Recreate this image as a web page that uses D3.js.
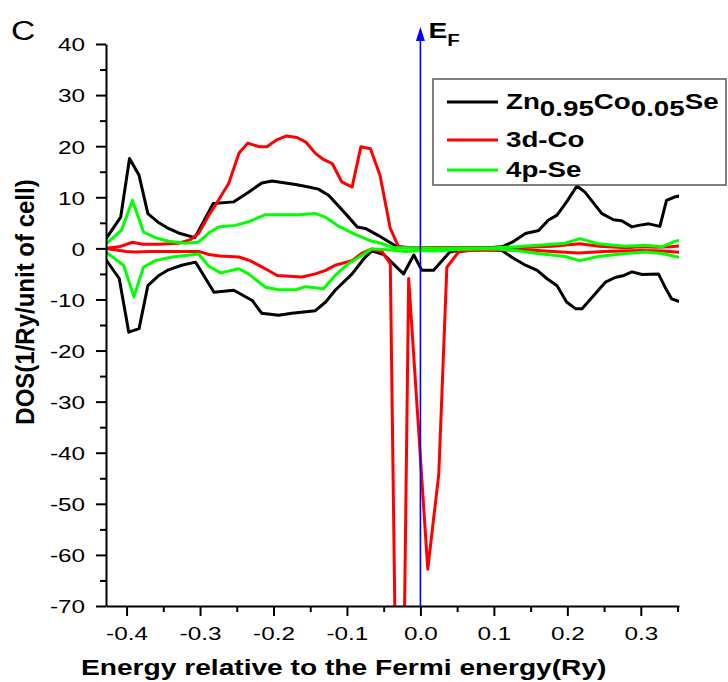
<!DOCTYPE html>
<html>
<head>
<meta charset="utf-8">
<script src="https://cdn.jsdelivr.net/npm/d3@7"></script>
<style>
  body { margin: 0; background: #fff; }
  svg text { font-family: Arial, "Liberation Sans", sans-serif; fill: #000; }
</style>
</head>
<body>
<svg id="chart" width="728" height="682"></svg>
<script>
// Energy (Ry) / DOS pairs, spin up (+) and spin down (-)
const totalUp = [[-0.435,0.4],[-0.408,6.1],[-0.396,17.6],[-0.383,14.3],[-0.371,6.8],[-0.356,5.0],[-0.343,3.9],[-0.327,2.9],[-0.307,2.1],[-0.282,8.8],[-0.254,9.1],[-0.234,11.0],[-0.216,12.8],[-0.202,13.2],[-0.170,12.5],[-0.152,12.0],[-0.139,11.6],[-0.125,10.4],[-0.102,6.8],[-0.086,4.2],[-0.075,3.9],[-0.057,2.5],[-0.032,0.3],[-0.010,0.1],[0.030,0.1],[0.100,0.2],[0.111,0.3],[0.125,1.2],[0.143,2.9],[0.161,3.5],[0.174,5.5],[0.186,6.5],[0.199,9.1],[0.213,12.2],[0.224,11.0],[0.247,6.8],[0.263,5.6],[0.274,5.4],[0.288,4.2],[0.297,4.5],[0.311,4.8],[0.326,4.3],[0.335,9.4],[0.347,10.1],[0.355,10.3]];
const totalDn = [[-0.435,-0.8],[-0.410,-5.9],[-0.397,-16.4],[-0.383,-15.7],[-0.371,-7.3],[-0.356,-5.3],[-0.343,-4.2],[-0.325,-3.3],[-0.306,-2.7],[-0.281,-8.6],[-0.254,-8.2],[-0.229,-10.2],[-0.216,-12.7],[-0.193,-13.1],[-0.175,-12.7],[-0.143,-12.2],[-0.129,-10.5],[-0.116,-8.2],[-0.093,-5.0],[-0.075,-1.7],[-0.066,-0.5],[-0.050,-1.2],[-0.023,-5.0],[-0.009,-1.3],[0.002,-4.3],[0.018,-4.3],[0.040,-0.7],[0.060,-0.2],[0.100,-0.3],[0.111,-0.4],[0.125,-1.8],[0.143,-3.3],[0.159,-4.3],[0.172,-5.9],[0.186,-7.3],[0.199,-10.5],[0.211,-11.8],[0.220,-11.8],[0.238,-8.9],[0.252,-6.6],[0.265,-5.7],[0.277,-5.3],[0.288,-4.6],[0.302,-5.1],[0.324,-5.0],[0.333,-7.6],[0.342,-9.9],[0.355,-10.5]];
const coUp = [[-0.435,-0.1],[-0.428,0.0],[-0.410,0.3],[-0.392,1.2],[-0.378,0.8],[-0.356,0.8],[-0.329,1.0],[-0.313,1.7],[-0.302,2.9],[-0.288,6.5],[-0.275,9.4],[-0.261,12.7],[-0.247,18.6],[-0.235,20.6],[-0.220,19.9],[-0.209,19.9],[-0.195,21.3],[-0.182,22.0],[-0.168,21.7],[-0.156,20.8],[-0.143,18.6],[-0.132,17.4],[-0.120,16.6],[-0.107,13.0],[-0.093,12.0],[-0.081,19.9],[-0.068,19.5],[-0.055,14.3],[-0.041,3.9],[-0.030,0.4],[-0.020,0.1],[0.050,0.1],[0.130,0.1],[0.160,0.3],[0.180,0.4],[0.195,0.6],[0.217,0.9],[0.243,0.4],[0.280,0.1],[0.300,0.3],[0.320,0.2],[0.340,0.3],[0.355,0.5]];
const coDn = [[-0.435,0.0],[-0.428,0.0],[-0.400,-0.6],[-0.389,-0.7],[-0.366,-0.6],[-0.302,-0.6],[-0.288,-1.2],[-0.273,-1.5],[-0.247,-1.7],[-0.232,-2.4],[-0.211,-4.0],[-0.195,-5.3],[-0.161,-5.6],[-0.143,-5.0],[-0.129,-4.3],[-0.116,-3.3],[-0.093,-2.4],[-0.080,-1.0],[-0.066,-0.1],[-0.052,-0.7],[-0.041,-3.0],[-0.028,-145],[-0.016,-5.9],[0.010,-62.8],[0.025,-44.2],[0.036,-3.7],[0.052,-0.7],[0.066,-0.4],[0.100,-0.3],[0.150,-0.3],[0.180,-0.6],[0.215,-0.9],[0.250,-0.6],[0.300,-0.4],[0.330,-0.5],[0.355,-0.8]];
const seUp = [[-0.435,0.0],[-0.407,3.5],[-0.392,9.4],[-0.377,3.2],[-0.361,2.1],[-0.343,1.4],[-0.320,1.0],[-0.302,1.2],[-0.288,3.0],[-0.275,4.2],[-0.252,4.5],[-0.234,5.2],[-0.211,6.6],[-0.166,6.6],[-0.143,6.8],[-0.129,6.1],[-0.111,4.3],[-0.088,2.7],[-0.070,1.6],[-0.052,0.9],[-0.036,0.1],[-0.010,0.1],[0.020,0.0],[0.100,0.1],[0.130,0.3],[0.160,0.6],[0.197,1.0],[0.217,1.9],[0.242,0.9],[0.279,0.4],[0.306,0.6],[0.329,0.3],[0.347,1.4],[0.355,1.6]];
const seDn = [[-0.435,0.0],[-0.404,-3.3],[-0.390,-9.5],[-0.377,-3.7],[-0.361,-2.4],[-0.338,-1.7],[-0.302,-1.1],[-0.288,-3.5],[-0.272,-4.8],[-0.247,-4.0],[-0.234,-5.0],[-0.211,-7.6],[-0.193,-8.1],[-0.170,-8.1],[-0.156,-7.5],[-0.132,-7.9],[-0.116,-5.3],[-0.098,-3.0],[-0.080,-1.4],[-0.066,-0.1],[-0.040,-0.3],[-0.020,-0.6],[0.000,-0.4],[0.020,-0.5],[0.050,-0.2],[0.100,-0.1],[0.130,-0.4],[0.160,-1.0],[0.197,-1.6],[0.217,-2.4],[0.242,-1.6],[0.279,-1.0],[0.306,-0.7],[0.329,-1.0],[0.347,-1.6],[0.355,-1.8]];

const xTickValues = [-0.4, -0.3, -0.2, -0.1, 0.0, 0.1, 0.2, 0.3];
const xMinorValues = [-0.35, -0.25, -0.15, -0.05, 0.05, 0.15, 0.25, 0.35];
const yTickValues = [40, 30, 20, 10, 0, -10, -20, -30, -40, -50, -60, -70];
const yMinorValues = [35, 25, 15, 5, -5, -15, -25, -35, -45, -55, -65];
const fermiEnergy = 0.0;

//////////////////////////////////////////////////////////////////////
// Layout
//////////////////////////////////////////////////////////////////////
const svg = d3.select('#chart');
const plotLeft = 106, plotRight = 679, plotTop = 44, plotBottom = 606;
const stretch = 1.28;   // the figure is widened horizontally, text included

const x = d3.scaleLinear().domain([-0.428, 0.352]).range([plotLeft, plotRight]);
const y = d3.scaleLinear().domain([-70, 40]).range([plotBottom, plotTop]);

svg.append('clipPath').attr('id', 'plot-clip')
    .append('rect')
    .attr('x', plotLeft).attr('y', plotTop)
    .attr('width', plotRight - plotLeft).attr('height', plotBottom - plotTop);

//////////////////////////////////////////////////////////////////////
// Curves
//////////////////////////////////////////////////////////////////////
const line = d3.line().x(d => x(d[0])).y(d => y(d[1]));
const curves = [
    {data: totalUp, color: '#000000'},
    {data: totalDn, color: '#000000'},
    {data: coUp, color: '#ff0000'},
    {data: coDn, color: '#ff0000'},
    {data: seUp, color: '#00ff00'},
    {data: seDn, color: '#00ff00'}
];
const plot = svg.append('g').attr('clip-path', 'url(#plot-clip)');
curves.forEach(c => {
    plot.append('path')
        .attr('d', line(c.data))
        .attr('fill', 'none')
        .attr('stroke', c.color)
        .attr('stroke-width', 3)
        .attr('stroke-linejoin', 'round');
});

// Fermi level with arrow
const xf = x(fermiEnergy);
svg.append('line')
    .attr('x1', xf).attr('x2', xf)
    .attr('y1', plotBottom).attr('y2', 38)
    .attr('stroke', '#0000ff').attr('stroke-width', 1.6);
svg.append('path')
    .attr('d', `M${xf},27 L${xf - 4.5},41 L${xf + 4.5},41 Z`)
    .attr('fill', '#0000ff');
const ef = svg.append('text')
    .attr('transform', `translate(${xf + 8},38) scale(${stretch},1)`)
    .style('font-size', '22px').style('font-weight', 'bold');
ef.append('tspan').text('E');
ef.append('tspan').attr('dy', 8).style('font-size', '16px').text('F');

//////////////////////////////////////////////////////////////////////
// Axes
//////////////////////////////////////////////////////////////////////
function styleAxis(g) {
    g.select('.domain').attr('stroke', '#000').attr('stroke-width', 2);
    g.selectAll('.tick line').attr('stroke', '#000').attr('stroke-width', 2);
}

const yAxis = svg.append('g')
    .attr('transform', `translate(${plotLeft},0)`)
    .call(d3.axisLeft(y).tickValues(yTickValues).tickSize(10).tickSizeOuter(0).tickFormat(d => `${d}`));
styleAxis(yAxis);
yAxis.selectAll('.tick text')
    .attr('x', -21 / stretch)
    .attr('dy', '0.36em')
    .attr('transform', `scale(${stretch},1)`)
    .style('font-size', '19px');

svg.append('g')
    .attr('transform', `translate(${plotLeft},0)`)
    .call(d3.axisLeft(y).tickValues(yMinorValues).tickSize(6).tickFormat(''))
    .call(g => g.select('.domain').remove())
    .call(styleAxis);

const xAxis = svg.append('g')
    .attr('transform', `translate(0,${plotBottom})`)
    .call(d3.axisBottom(x).tickValues(xTickValues).tickSize(10).tickSizeOuter(0).tickFormat(d => d.toFixed(1)));
styleAxis(xAxis);
xAxis.selectAll('.tick text')
    .attr('y', 34)
    .attr('dy', null)
    .attr('transform', `scale(${stretch},1)`)
    .style('font-size', '19px');

svg.append('g')
    .attr('transform', `translate(0,${plotBottom})`)
    .call(d3.axisBottom(x).tickValues(xMinorValues).tickSize(6).tickFormat(''))
    .call(g => g.select('.domain').remove())
    .call(styleAxis);

// Axis titles
svg.append('text')
    .attr('transform', `translate(81,675) scale(${stretch},1)`)
    .style('font-size', '22px').style('font-weight', 'bold')
    .text('Energy relative to the Fermi energy(Ry)');

svg.append('text')
    .attr('transform', `translate(34,302) scale(1.1,1) rotate(-90)`)
    .attr('text-anchor', 'middle')
    .style('font-size', '24px').style('font-weight', 'bold')
    .text('DOS(1/Ry/unit of cell)');

// Panel letter
svg.append('text')
    .attr('transform', `translate(11,40) scale(1.2,1)`)
    .style('font-size', '28px')
    .text('C');

//////////////////////////////////////////////////////////////////////
// Legend
//////////////////////////////////////////////////////////////////////
const legend = svg.append('g');
legend.append('rect')
    .attr('x', 433).attr('y', 79).attr('width', 293).attr('height', 106)
    .attr('fill', '#fff').attr('stroke', '#555').attr('stroke-width', 1.5);

const legendRows = [
    {color: '#000000', y: 102, parts: [['Zn', 0], ['0.95', 7], ['Co', -7], ['0.05', 7], ['Se', -7]]},
    {color: '#ff0000', y: 140, parts: [['3d-Co', 0]]},
    {color: '#00ff00', y: 170, parts: [['4p-Se', 0]]}
];
legendRows.forEach(r => {
    legend.append('line')
        .attr('x1', 447).attr('x2', 498)
        .attr('y1', r.y).attr('y2', r.y)
        .attr('stroke', r.color).attr('stroke-width', 3);
    const t = legend.append('text')
        .attr('transform', `translate(506,${r.y + 7}) scale(1.26,1)`)
        .style('font-size', '22px').style('font-weight', 'bold');
    r.parts.forEach(p => t.append('tspan').attr('dy', p[1]).text(p[0]));
});
</script>
</body>
</html>
